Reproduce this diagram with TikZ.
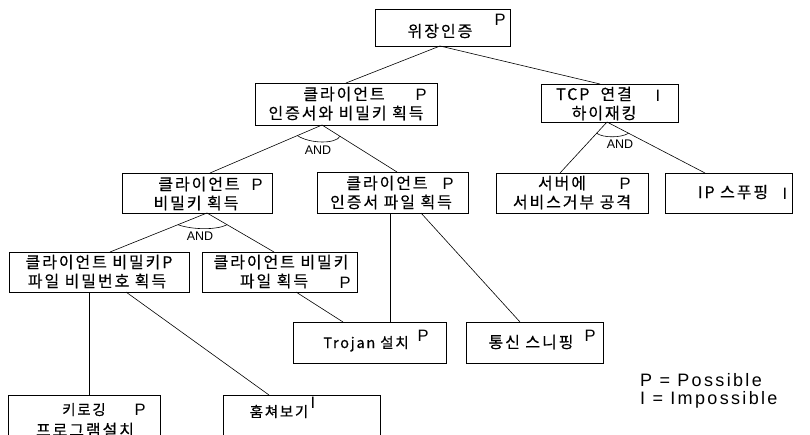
\documentclass[tikz,border=0pt]{standalone}
\usepackage{fontspec}
\setmainfont{Liberation Sans}
\newfontfamily\kr[LetterSpace=12,FakeBold=0.4]{Noto Sans CJK KR}
\newfontfamily\legfont[LetterSpace=13]{Liberation Sans}
\usetikzlibrary{calc}
\begin{document}
\begin{tikzpicture}[x=1pt,y=-1pt,
  box/.style={draw, line width=0.7pt, inner sep=0pt, outer sep=0pt},
  txt/.style={font=\kr\fontsize{16}{18}\selectfont, inner sep=0pt, anchor=base},
  txs/.style={font=\kr\fontsize{14.5}{18}\selectfont, inner sep=0pt, anchor=base},
  tag/.style={font=\fontsize{16.5}{16.5}\selectfont, inner sep=0pt, anchor=base},
  andl/.style={font=\fontsize{12.5}{12.5}\selectfont, inner sep=0pt},
  leg/.style={font=\legfont\fontsize{18}{18}\selectfont, inner sep=0pt, anchor=base west},
  edge/.style={line width=0.6pt},
  andarc/.style={line width=0.6pt}]
\useasboundingbox (0,0) rectangle (810,434);
\clip (0,0) rectangle (810,434);
% boxes
\node[box, minimum width=135pt, minimum height=37pt] (top) at (442.5,27.5) {};
\node[box, minimum width=182pt, minimum height=42pt] (ck) at (346,104) {};
\node[box, minimum width=137pt, minimum height=38pt] (tcp) at (609.5,103) {};
\node[box, minimum width=150pt, minimum height=40pt] (key) at (197,193) {};
\node[box, minimum width=151pt, minimum height=41pt] (cert) at (392.5,192.5) {};
\node[box, minimum width=152pt, minimum height=40pt] (dos) at (572,193) {};
\node[box, minimum width=127pt, minimum height=40pt] (ip) at (728.5,193) {};
\node[box, minimum width=180pt, minimum height=40pt] (keypw) at (99,272) {};
\node[box, minimum width=155pt, minimum height=40pt] (keyfile) at (279.5,272) {};
\node[box, minimum width=153pt, minimum height=41pt] (trojan) at (369.5,342.5) {};
\node[box, minimum width=137pt, minimum height=41pt] (sniff) at (534.5,342.5) {};
\node[box, minimum width=152pt, minimum height=56pt] (keylog) at (84,423) {};
\node[box, minimum width=157pt, minimum height=56pt] (peek) at (301.5,423) {};
% texts
\node[txt] (t1) at (440,37) {위장인증};
\node[tag] (t1p) at (500,25) {P};
\node[txt] (t2a) at (344,100) {클라이언트};
\node[tag] (t2p) at (421,100) {P};
\node[txt] (t2b) at (346,119) {인증서와 비밀키 획득};
\node[txt] (t3a) at (594,100) {TCP\ \ 연결};
\node[tag] (t3i) at (658,101) {I};
\node[txt] (t3b) at (604,119) {하이재킹};
\node[txt] (t4a) at (199,190) {클라이언트};
\node[tag] (t4p) at (257,190) {P};
\node[txt] (t4b) at (196,209) {비밀키 획득};
\node[txt] (t5a) at (387,189) {클라이언트};
\node[tag] (t5p) at (448,189) {P};
\node[txt] (t5b) at (391,208) {인증서 파일 획득};
\node[txt] (t6a) at (562,189) {서버에};
\node[tag] (t6p) at (625,189) {P};
\node[txt] (t6b) at (572,208) {서비스거부 공격};
\node[txt] (t7) at (733,198) {IP 스푸핑};
\node[tag] (t7i) at (785,199) {I};
\node[txt] (t8a) at (99,268) {클라이언트 비밀키P};
\node[txt] (t8b) at (97,287) {파일 비밀번호 획득};
\node[txt] (t9a) at (281,268) {클라이언트 비밀키};
\node[txt] (t9b) at (274,287) {파일 획득};
\node[tag] (t9p) at (345,288) {P};
\node[txs] (t10) at (366,348) {Trojan 설치};
\node[tag] (t10p) at (423,341) {P};
\node[txt] (t11) at (531,348) {통신 스니핑};
\node[tag] (t11p) at (590,341) {P};
\node[txs] (t12a) at (84,415) {키로깅};
\node[tag] (t12p) at (140,415) {P};
\node[txt] (t12b) at (85,436) {프로그램설치};
\node[txs] (t13) at (279,417) {훔쳐보기};
\node[tag] (t13i) at (313,408) {I};
% legend
\node[leg] (l1) at (640,386) {P = Possible};
\node[leg] (l2) at (640,404) {I = Impossible};
% connectors
\draw[edge] ([xshift=-2.5pt]top.south) -- (ck.north);
\draw[edge] ([xshift=-2.5pt]top.south) -- ([xshift=-9.5pt]tcp.north);
\coordinate (ckap) at ([xshift=-24pt]ck.south);
\draw[edge] (ckap) -- ([xshift=13pt]key.north);
\draw[edge] (ckap) -- ([xshift=4.5pt]cert.north);
\coordinate (tcpap) at ([xshift=-2.5pt]tcp.south);
\draw[edge] (tcpap) -- ([xshift=-12pt]dos.north);
\draw[edge] (tcpap) -- ([xshift=-23.5pt]ip.north);
\coordinate (keyap) at ([xshift=10pt]key.south);
\draw[edge] (keyap) -- ([xshift=11pt]keypw.north);
\draw[edge] (keyap) -- ([xshift=-5.5pt]keyfile.north);
\draw[edge] ([xshift=-2.5pt]cert.south) -- ([xshift=20.5pt]trojan.north);
\draw[edge] ([xshift=28.5pt]cert.south) -- ([xshift=-14.5pt]sniff.north);
\draw[edge] ([xshift=16.5pt]keyfile.south) -- ([xshift=-26.5pt]trojan.north);
\draw[edge] ([xshift=-10pt]keypw.south) -- ([xshift=5pt]keylog.north);
\draw[edge] ([xshift=27pt]keypw.south) -- ([xshift=-32.5pt]peek.north);
% AND arcs
\draw[andarc] ($(ckap)!0.22!([xshift=13pt]key.north)$) .. controls ($(ckap)+(-12,19)$) and ($(ckap)+(14,19)$) .. ($(ckap)!0.24!([xshift=4.5pt]cert.north)$);
\node[andl] (and1) at (318,150) {AND};
\draw[andarc] ($(tcpap)!0.22!([xshift=-12pt]dos.north)$) .. controls ($(tcpap)+(-4,16)$) and ($(tcpap)+(14,16)$) .. ($(tcpap)!0.22!([xshift=-23.5pt]ip.north)$);
\node[andl] (and2) at (620,144) {AND};
\draw[andarc] ($(keyap)!0.3!([xshift=11pt]keypw.north)$) .. controls ($(keyap)+(-14,17)$) and ($(keyap)+(10,17)$) .. ($(keyap)!0.3!([xshift=-5.5pt]keyfile.north)$);
\node[andl] (and3) at (200,236) {AND};
\end{tikzpicture}
\end{document}
